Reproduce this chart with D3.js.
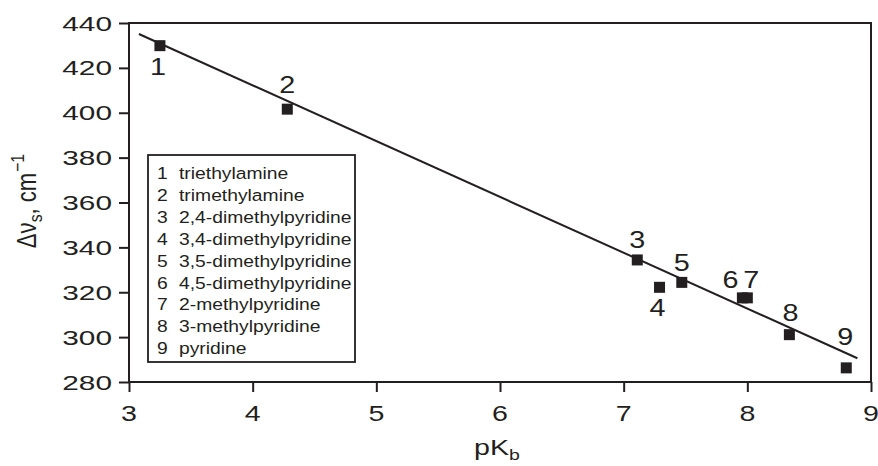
<!DOCTYPE html>
<html>
<head>
<meta charset="utf-8">
<script src="https://d3js.org/d3.v7.min.js"></script>
<style>
  body { margin: 0; background: white; }
  text { font-family: "Liberation Sans", Arial, sans-serif; fill: #231f20; }
</style>
</head>
<body>
<div id="chart"></div>
<script>
// data
var ids = [1, 2, 3, 4, 5, 6, 7, 8, 9];
var names = ["triethylamine", "trimethylamine", "2,4-dimethylpyridine", "3,4-dimethylpyridine",
  "3,5-dimethylpyridine", "4,5-dimethylpyridine", "2-methylpyridine", "3-methylpyridine", "pyridine"];
var pKb = [3.25, 4.28, 7.11, 7.29, 7.47, 7.96, 8.00, 8.34, 8.80];
var dNu = [429.9, 401.6, 334.4, 322.2, 324.4, 317.5, 317.5, 301.1, 286.3];
var fitX = [3.08, 8.89];
var fitY = [435.1, 290.6];
var xTicks = [3, 4, 5, 6, 7, 8, 9];
var yTicks = [280, 300, 320, 340, 360, 380, 400, 420, 440];

var width = 878, height = 466;
var ink = "#231f20";

var svg = d3.select("#chart").append("svg")
  .attr("width", width)
  .attr("height", height);

var x = d3.scaleLinear().domain([3, 9]).range([129, 871]);
var y = d3.scaleLinear().domain([280, 440]).range([382, 23]);

// the scanned figure is wider than tall, so text gets a horizontal stretch
function place(sel, px, py, sx) {
  sel.attr("transform", "translate(" + px + "," + py + ") scale(" + sx + ",1)");
}

// frame
svg.append("rect")
  .attr("x", x(3)).attr("y", y(440))
  .attr("width", x(9) - x(3)).attr("height", y(280) - y(440))
  .attr("fill", "none").attr("stroke", ink).attr("stroke-width", 2);

// axes
var xAxis = svg.append("g")
  .attr("transform", "translate(0," + y(280) + ")")
  .call(d3.axisBottom(x).tickValues(xTicks).tickSize(10).tickFormat(""));
var yAxis = svg.append("g")
  .attr("transform", "translate(" + x(3) + ",0)")
  .call(d3.axisLeft(y).tickValues(yTicks).tickSize(10).tickFormat(""));
[xAxis, yAxis].forEach(function(g) {
  g.select(".domain").remove();
  g.selectAll("line").attr("stroke", ink).attr("stroke-width", 2);
});

svg.selectAll(".xlab").data(xTicks).enter().append("text")
  .attr("class", "xlab")
  .attr("text-anchor", "middle")
  .style("font-size", "22px")
  .text(function(d) { return d; })
  .each(function(d) { place(d3.select(this), x(d), 421, 1.3); });

svg.selectAll(".ylab").data(yTicks).enter().append("text")
  .attr("class", "ylab")
  .attr("text-anchor", "end")
  .style("font-size", "21px")
  .text(function(d) { return d; })
  .each(function(d) { place(d3.select(this), 112, y(d) + 7.5, 1.42); });

// axis titles
var xt = svg.append("text").attr("text-anchor", "middle").style("font-size", "22px");
xt.append("tspan").text("pK");
xt.append("tspan").attr("dy", 5).style("font-size", "15px").text("b");
place(xt, 497, 455, 1.3);

var yt = svg.append("text").attr("text-anchor", "middle").style("font-size", "21px")
  .attr("transform", "translate(36,201) rotate(-90) scale(1.05,1.28)");
yt.append("tspan").text("\u0394\u03bd");
yt.append("tspan").attr("dy", 5).style("font-size", "15px").text("s");
yt.append("tspan").attr("dy", -5).text(", cm");
yt.append("tspan").attr("dy", -9).attr("dx", 1).style("font-size", "15px").text("\u22121");

// fit line
svg.append("line")
  .attr("x1", x(fitX[0])).attr("y1", y(fitY[0]))
  .attr("x2", x(fitX[1])).attr("y2", y(fitY[1]))
  .attr("stroke", ink).attr("stroke-width", 2);

// points
var sq = 11;
svg.selectAll(".pt").data(ids).enter().append("rect")
  .attr("class", "pt")
  .attr("x", function(d, i) { return x(pKb[i]) - sq / 2; })
  .attr("y", function(d, i) { return y(dNu[i]) - sq / 2; })
  .attr("width", sq).attr("height", sq)
  .attr("fill", ink);

// point numbers, nudged off the squares
var nudge = [[-2, 29], [0, -16], [0, -12], [-2, 29], [0, -11], [-12, -10], [4, -10], [1, -14], [-1, -23]];
svg.selectAll(".num").data(ids).enter().append("text")
  .attr("class", "num")
  .attr("text-anchor", "middle")
  .style("font-size", "23px")
  .text(function(d) { return d; })
  .each(function(d, i) { place(d3.select(this), x(pKb[i]) + nudge[i][0], y(dNu[i]) + nudge[i][1], 1.25); });

// legend
var lg = svg.append("g");
lg.append("rect")
  .attr("x", 148).attr("y", 155).attr("width", 207).attr("height", 207)
  .attr("fill", "white").attr("stroke", ink).attr("stroke-width", 1.8);
ids.forEach(function(d, i) {
  var a = lg.append("text").style("font-size", "16.5px").text(d);
  place(a, 157, 179 + i * 21.9, 1.17);
  var b = lg.append("text").style("font-size", "16.5px").text(names[i]);
  place(b, 179, 179 + i * 21.9, 1.17);
});
</script>
</body>
</html>
